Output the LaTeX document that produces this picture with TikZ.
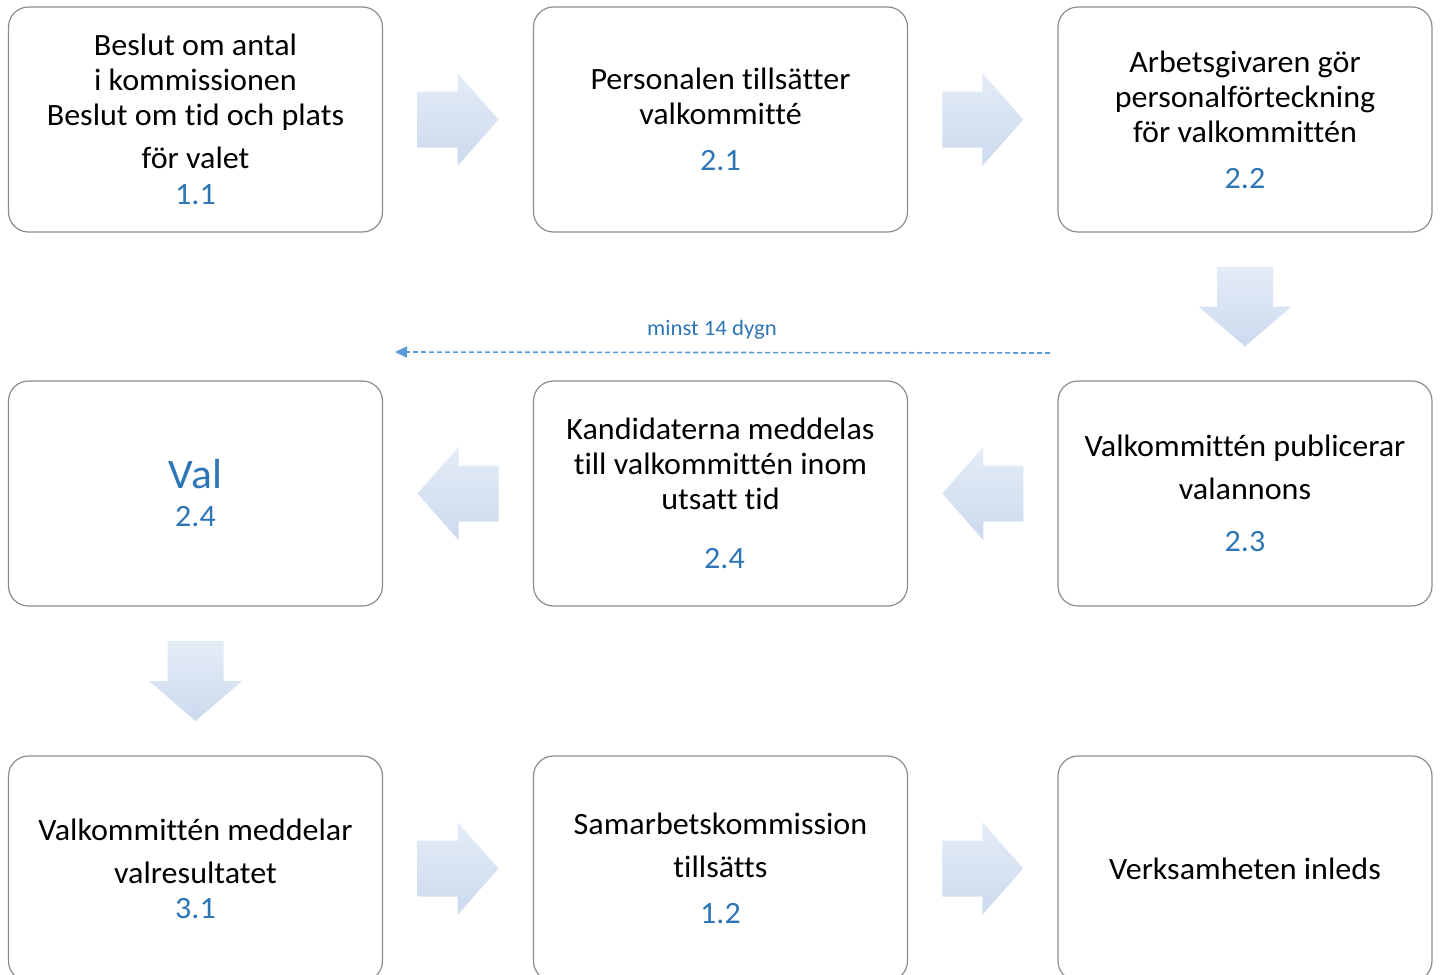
\documentclass[tikz,border=0pt]{standalone}
\usepackage{fontspec}
\setmainfont{Carlito}[Ligatures=NoCommon, FakeStretch=1.035]
\usetikzlibrary{calc,arrows.meta}

\definecolor{numblue}{HTML}{2E75B6}
\definecolor{linkblue}{HTML}{5B9BD5}
\definecolor{boxgray}{HTML}{8C8C8C}
\definecolor{arrowtop}{HTML}{E4ECF7}
\definecolor{arrowbot}{HTML}{CCDAEE}

\tikzset{
  box/.style={draw=boxgray, line width=0.6pt, rounded corners=10pt, fill=white,
    minimum width=187pt, minimum height=112.5pt, inner sep=0pt, align=center,
    font=\fontsize{15.5}{17.5}\selectfont},
  num/.style={text=numblue},
  blockfill/.style={top color=arrowtop, bottom color=arrowbot, draw=none},
  dashline/.style={draw=linkblue, line width=0.8pt, dash pattern=on 2.5pt off 1.5pt,
    -{Triangle[length=6pt,width=5.5pt]}},
  % block arrows, centred on the pic origin
  rblock/.pic={\path[blockfill] (-40.5,-28) -- (-0.5,-28) -- (-0.5,-46.5) -- (40.5,0)
    -- (-0.5,46.5) -- (-0.5,28) -- (-40.5,28) -- cycle;},
  lblock/.pic={\path[blockfill] (40.5,-28) -- (0.5,-28) -- (0.5,-46.5) -- (-40.5,0)
    -- (0.5,46.5) -- (0.5,28) -- (40.5,28) -- cycle;},
  dblock/.pic={\path[blockfill] (-28,-40) -- (28,-40) -- (28,0) -- (46.5,0) -- (0,40)
    -- (-46.5,0) -- (-28,0) -- cycle;}
}

\begin{document}
\begin{tikzpicture}[x=0.5pt, y=-0.5pt]

    % Fix the page size
    \useasboundingbox (0,0) rectangle (1442,975);

    % First row
    \node[box] (beslut) at (195.5,119.5) {Beslut om antal\\ i kommissionen\\
      Beslut om tid och plats\\[4pt] för valet\\[0.5pt] \textcolor{numblue}{1.1}};
    \node[box] (personal) at (720.5,119.5) {Personalen tillsätter\\ valkommitté\\[5.5pt]
      \textcolor{numblue}{2.1}};
    \node[box] (forteck) at (1245,119.5) {Arbetsgivaren gör\\ personalförteckning\\
      för valkommittén\\[5.5pt] \textcolor{numblue}{2.2}};

    % Second row
    \node[box] (publicera) at (1245,493.5) {Valkommittén publicerar\\[4pt] valannons\\[8.5pt]
      \textcolor{numblue}{2.3}};
    \node[box] (kandidat) at (720.5,493.5) {Kandidaterna meddelas\\ till valkommittén inom\\
      utsatt tid\\[12pt] \hspace*{4pt}\textcolor{numblue}{2.4}};
    \node[box] (val) at (195.5,493.5) {\textcolor{numblue}{\fontsize{21}{22}\selectfont Val}\\[1.5pt]
      \textcolor{numblue}{2.4}};

    % Third row (runs off the bottom edge)
    \node[box] (resultat) at (195.5,868.5) {Valkommittén meddelar\\[4pt] valresultatet\\
      \textcolor{numblue}{3.1}};
    \node[box] (samarb) at (720.5,868.5) {Samarbetskommission\\[4pt] tillsätts\\[5.5pt]
      \textcolor{numblue}{1.2}};
    \node[box] (verksam) at (1245,868.5) {Verksamheten inleds};

    % Block arrows between the boxes
    \pic at ($(beslut.east)!0.5!(personal.west)$) {rblock};
    \pic at ($(personal.east)!0.5!(forteck.west)$) {rblock};
    \pic at ($(forteck.south)!0.5!(publicera.north)$) {dblock};
    \pic at ($(kandidat.east)!0.5!(publicera.west)$) {lblock};
    \pic at ($(val.east)!0.5!(kandidat.west)$) {lblock};
    \pic at ($(val.south)!0.5!(resultat.north)$) {dblock};
    \pic at ($(resultat.east)!0.5!(samarb.west)$) {rblock};
    \pic at ($(samarb.east)!0.5!(verksam.west)$) {rblock};

    % Dashed time span above the second row
    \coordinate (dstart) at (1050,353);
    \coordinate (dend) at (395,352);
    \draw[dashline] (dstart) -- (dend);
    \node[num, font=\fontsize{11}{13}\selectfont] (span) at (712,330) {minst 14 dygn};

\end{tikzpicture}
\end{document}
